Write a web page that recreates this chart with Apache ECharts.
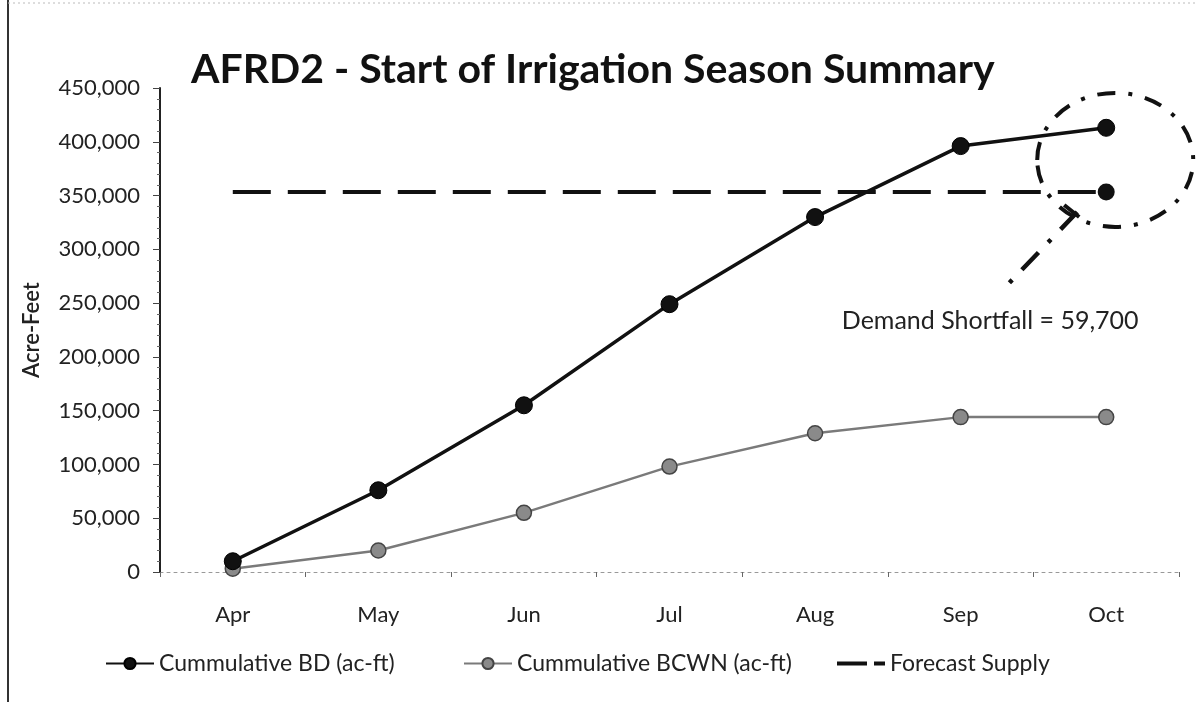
<!DOCTYPE html>
<html lang="en">
<head>
    <meta charset="UTF-8">
    <title>AFRD2 - Start of Irrigation Season Summary</title>
</head>
<body style="margin:0; background:#fff;">
<div id="chart1" style="width:1197px; height:702px;"></div>
<script type="text/javascript" src="https://cdn.jsdelivr.net/npm/echarts@6/dist/echarts.min.js"></script>
<script type="text/javascript">
// data
var months = ['Apr', 'May', 'Jun', 'Jul', 'Aug', 'Sep', 'Oct'];
var cumBD = [10000, 76000, 155000, 249000, 330000, 396000, 413000];
var cumBCWN = [3000, 20000, 55000, 98000, 129000, 144000, 144000];
var forecastSupply = [353300, 353300, 353300, 353300, 353300, 353300, 353300];
var yTicks = [0, 50000, 100000, 150000, 200000, 250000, 300000, 350000, 400000, 450000];
var shortfallText = 'Demand Shortfall = 59,700';

var FONT = 'Lato, "Open Sans", sans-serif';

// one legend box per entry so they sit where the scan has them
var legendText = {fontFamily: FONT, fontSize: 23, color: '#222'};
function legendAt(left, item) {
    return {
        bottom: 22, left: left, itemWidth: 48, itemHeight: 14, itemGap: 6,
        textStyle: legendText, data: [item]
    };
}

var option = {
    animation: false,
    backgroundColor: '#fff',
    title: {
        text: 'AFRD2 - Start of Irrigation Season Summary',
        left: 186,
        top: 44,
        textStyle: {fontFamily: FONT, fontSize: 41, fontWeight: 'bold', color: '#111'}
    },
    grid: {left: 160, right: 18, top: 88, bottom: 130},
    legend: [
        legendAt(100, 'Cummulative BD (ac-ft)'),
        legendAt(458, 'Cummulative BCWN (ac-ft)'),
        legendAt(832, {name: 'Forecast Supply', icon: 'path://M0,5H30V9H0Z M37,5H48V9H37Z'})
    ],
    xAxis: {
        type: 'category',
        data: months,
        boundaryGap: true,
        axisLine: {lineStyle: {color: '#999', type: [3, 4], width: 1}},
        axisTick: {show: true, length: 5, lineStyle: {color: '#666'}},
        axisLabel: {fontFamily: FONT, fontSize: 22, color: '#222', margin: 32}
    },
    yAxis: {
        type: 'value',
        min: yTicks[0],
        max: yTicks[yTicks.length - 1],
        interval: 50000,
        name: 'Acre-Feet',
        nameLocation: 'middle',
        nameRotate: 90,
        nameGap: 117,
        nameTextStyle: {fontFamily: FONT, fontSize: 22, fontWeight: 600, color: '#222'},
        axisLine: {show: true, lineStyle: {color: '#222', width: 2}},
        axisTick: {show: true, length: 7, lineStyle: {color: '#444'}},
        minorTick: {show: true, splitNumber: 5, length: 3, lineStyle: {color: '#666'}},
        splitLine: {show: false},
        axisLabel: {
            fontFamily: FONT, fontSize: 22, color: '#222', margin: 20,
            formatter: function (v) { return v.toLocaleString('en-US'); }
        }
    },
    series: [
        {
            name: 'Cummulative BD (ac-ft)',
            type: 'line',
            data: cumBD,
            symbol: 'circle',
            symbolSize: 17,
            lineStyle: {color: '#111', width: 3.5},
            itemStyle: {color: '#111', borderColor: '#000', borderWidth: 1},
            z: 4
        },
        {
            name: 'Cummulative BCWN (ac-ft)',
            type: 'line',
            data: cumBCWN,
            symbol: 'circle',
            symbolSize: 15,
            lineStyle: {color: '#7a7a7a', width: 2.5},
            itemStyle: {color: '#8a8a8a', borderColor: '#444', borderWidth: 1.5},
            z: 3
        },
        {
            name: 'Forecast Supply',
            type: 'line',
            data: forecastSupply,
            symbol: 'circle',
            symbolSize: function (v, p) { return p.dataIndex === months.length - 1 ? 17 : 0; },
            showAllSymbol: true,
            lineStyle: {color: '#111', width: 4, type: [38, 17]},
            itemStyle: {color: '#111'},
            z: 2
        }
    ]
};

var myChart = echarts.init(document.getElementById('chart1'));
myChart.setOption(option);

// annotation: dash-dot ellipse round the Oct points, pointer and label
var last = months.length - 1;
var mid = (cumBD[last] + forecastSupply[last]) / 2;
var c = myChart.convertToPixel({seriesIndex: 0}, [last, mid]);
var s = myChart.convertToPixel({seriesIndex: 2}, [last, forecastSupply[last]]);
myChart.setOption({
    graphic: [
        {
            type: 'ellipse',
            shape: {cx: c[0] + 9, cy: c[1], rx: 78, ry: 67},
            style: {fill: null, stroke: '#111', lineWidth: 4, lineDash: [18, 13, 4, 13]},
            z: 10
        },
        {
            type: 'line',
            shape: {x1: s[0] - 29, y1: s[1] + 20, x2: s[0] - 98, y2: s[1] + 92},
            style: {stroke: '#111', lineWidth: 4.5, lineDash: [24, 14, 4, 14]},
            z: 10
        },
        {
            type: 'line',
            shape: {x1: s[0] - 42, y1: s[1] + 13, x2: s[0] - 27, y2: s[1] + 25},
            style: {stroke: '#111', lineWidth: 4},
            z: 10
        },
        {
            type: 'text',
            x: s[0] - 116,
            y: s[1] + 129,
            style: {
                text: shortfallText, fill: '#222',
                font: '25px ' + FONT, align: 'center', verticalAlign: 'middle'
            },
            z: 10
        },
        // scanned page frame
        {type: 'line', shape: {x1: 8, y1: 0, x2: 8, y2: 702}, style: {stroke: '#333', lineWidth: 2}},
        {type: 'line', shape: {x1: 8, y1: 3, x2: 1197, y2: 3}, style: {stroke: '#bbb', lineWidth: 1, lineDash: [2, 3]}}
    ]
});
</script>
</body>
</html>
